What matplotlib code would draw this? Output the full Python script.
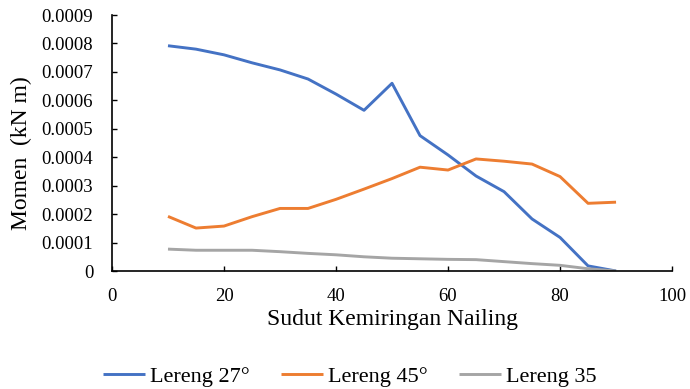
import matplotlib
matplotlib.use("Agg")
import matplotlib.pyplot as plt

# sudut nailing (derajat)
sudut = [10, 15, 20, 25, 30, 35, 40, 45, 50, 55, 60, 65, 70, 75, 80, 85, 90]

# momen (kN m) per kemiringan lereng
lereng_27 = [0.000792, 0.000780, 0.000760, 0.000732, 0.000707, 0.000675, 0.000622, 0.000565,
             0.000660, 0.000476, 0.000408, 0.000334, 0.000279, 0.000183, 0.000118, 0.000018, 0.0]
lereng_45 = [0.000192, 0.000151, 0.000158, 0.000191, 0.000220, 0.000220, 0.000252, 0.000288,
             0.000325, 0.000365, 0.000355, 0.000394, 0.000386, 0.000376, 0.000332, 0.000238, 0.000242]
lereng_35 = [0.000077, 0.000073, 0.000073, 0.000073, 0.000068, 0.000062, 0.000057, 0.000050,
             0.000045, 0.000043, 0.000041, 0.000040, 0.000033, 0.000026, 0.000020, 0.000008, 0.0]

nama_seri = ["Lereng 27°", "Lereng 45°", "Lereng 35"]
warna = ["#4472C4", "#ED7D31", "#A5A5A5"]

x_ticks = [0, 20, 40, 60, 80, 100]
y_ticks = [i * 0.0001 for i in range(10)]
y_labels = ["0"] + ["%.4f" % v for v in y_ticks[1:]]

plt.rcParams["font.family"] = ["Liberation Serif", "DejaVu Serif"]

fig = plt.figure(figsize=(6.9, 3.89), dpi=100)
ax = fig.add_axes([0.1623, 0.3033, 0.8117, 0.6581])

for data, nama, c in zip([lereng_27, lereng_45, lereng_35], nama_seri, warna):
    ax.plot(sudut, data, color=c, lw=2.1, label=nama, solid_capstyle="butt")

ax.set_xlim(0, 100)
ax.set_ylim(0, 0.0009)
ax.set_xticks(x_ticks)
ax.set_yticks(y_ticks)
ax.set_yticklabels(y_labels)
ax.tick_params(direction="in", length=3.5, width=1, labelsize=13.5, colors="black")
ax.tick_params(axis="x", pad=12)
ax.tick_params(axis="y", pad=13.5)

for s in ["top", "right"]:
    ax.spines[s].set_visible(False)
for s in ["left", "bottom"]:
    ax.spines[s].set_linewidth(1.2)

ax.set_xlabel("Sudut Kemiringan Nailing", fontsize=17)
ax.set_ylabel("Momen  (kN m)", fontsize=17)
ax.xaxis.set_label_coords(0.5, -0.15)
ax.yaxis.set_label_coords(-0.142, 0.46)

fig.legend(*ax.get_legend_handles_labels(), loc="center", bbox_to_anchor=(0.507, 0.031),
           ncol=3, frameon=False, fontsize=16, handlelength=1.9, handletextpad=0.22,
           columnspacing=1.4, borderpad=0)

fig.savefig("out.png", dpi=100)
